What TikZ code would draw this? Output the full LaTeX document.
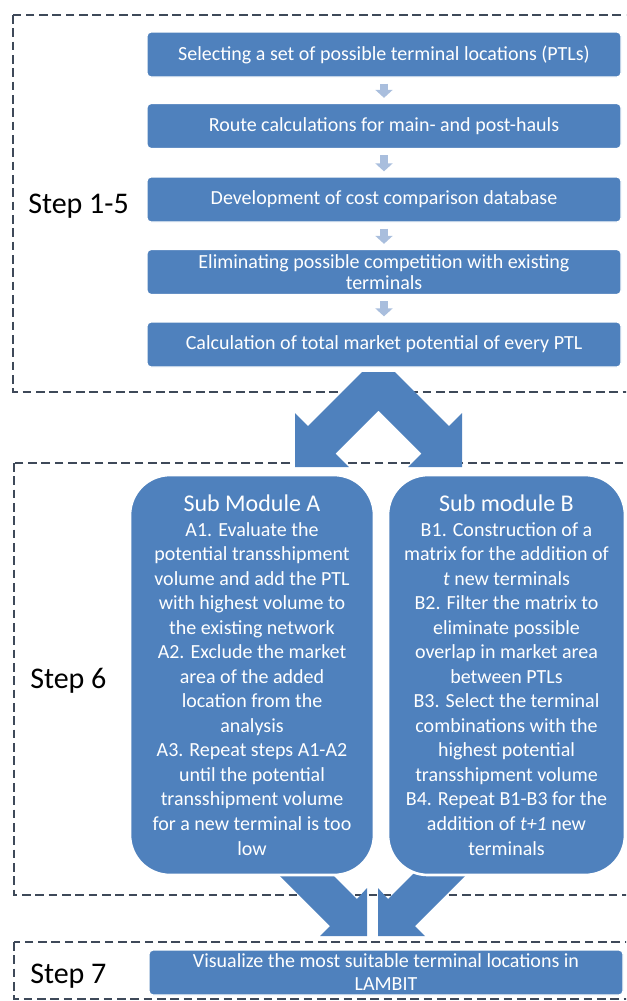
\documentclass[tikz,border=0pt]{standalone}
\usepackage{fontspec}
\setmainfont{Carlito}
\usetikzlibrary{arrows.meta}

\definecolor{boxblue}{HTML}{4F81BD}
\definecolor{lightarrow}{HTML}{A9BEDD}
\definecolor{dashgrey}{HTML}{3E4959}

\tikzset{
  stepbox/.style={rectangle,rounded corners=3pt,fill=boxblue,draw=white,line width=1pt,
    text=white,align=center,inner sep=2pt,minimum width=355.5pt,minimum height=33.75pt,
    font=\fontsize{15}{16}\selectfont},
  modbox/.style={rectangle,rounded corners=30pt,fill=boxblue,draw=white,line width=2pt,
    text=white,align=center,inner sep=2pt,minimum height=300pt,
    font=\fontsize{15}{18.4}\selectfont},
  steplabel/.style={anchor=base west,inner sep=0pt,font=\fontsize{22.5}{27}\selectfont},
  dashframe/.style={draw=dashgrey,line width=2.2pt,dash pattern=on 6.5pt off 3.5pt},
  bigarrow/.style={fill=boxblue},
  smallarrow/.style={draw=lightarrow,line width=6pt,-{Triangle[length=6pt,width=12.75pt]}}
}

\begin{document}
\begin{tikzpicture}[x=0.75pt,y=-0.75pt]
\useasboundingbox (0,0) rectangle (626,1001);
\clip (0,0) rectangle (626,1001);

\draw[dashframe] (13,15) rectangle (640,392);
\draw[dashframe] (14,463) rectangle (640,895);
\draw[dashframe] (14,942) rectangle (640,999);

\fill[bigarrow] (362,372) -- (395,372) -- (449,426) -- (462,413) -- (462,467) -- (408,467)
  -- (421.5,453.5) -- (378.5,410.5) -- (335.5,453.5) -- (349,467) -- (295,467) -- (295,413)
  -- (308,426) -- cycle;
\fill[bigarrow] (269,865) -- (323,865) -- (357,899) -- (367,888) -- (367,936) -- (320,936)
  -- (330,926) -- cycle;
\fill[bigarrow] (476,865) -- (422,865) -- (388,899) -- (378,888) -- (378,936) -- (425,936)
  -- (415,926) -- cycle;

\begin{scope}[every node/.style={stepbox}]
    \node (sel) at (384,54.5) {Selecting a set of possible terminal locations (PTLs)};
    \node (route) at (384,126) {Route calculations for main- and post-hauls};
    \node (dev) at (384,199.5) {Development of cost comparison database};
    \node (elim) at (384,272) {Eliminating possible competition with existing\\terminals};
    \node (calc) at (384,344.5) {Calculation of total market potential of every PTL};
    \node[font=\fontsize{15}{17.25}\selectfont] (vis) at (386,972.5)
      {Visualize the most suitable terminal locations in\\LAMBIT};
\end{scope}

\begin{scope}[every node/.style={modbox}]
    \node[minimum width=183pt] (moda) at (252,675) {{\fontsize{18}{18.4}\selectfont Sub Module A}\\
      A1. Evaluate the\\potential transshipment\\volume and add the PTL\\
      with highest volume to\\the existing network\\A2. Exclude the market\\
      area of the added\\location from the\\analysis\\A3. Repeat steps A1-A2\\
      until the potential\\transshipment volume\\for a new terminal is too\\low};
    \node[minimum width=177.75pt] (modb) at (506.5,675) {{\fontsize{18}{18.4}\selectfont Sub module B}\\
      B1. Construction of a\\matrix for the addition of\\\textit{t} new terminals\\
      B2. Filter the matrix to\\eliminate possible\\overlap in market area\\
      between PTLs\\B3. Select the terminal\\combinations with the\\
      highest potential\\transshipment volume\\B4. Repeat B1-B3 for the\\
      addition of \textit{t+1} new\\terminals};
\end{scope}

\begin{scope}[every node/.style={steplabel}]
    \node (lab15) at (28,213) {Step 1-5};
    \node (lab6) at (30,688) {Step 6};
    \node (lab7) at (30,983) {Step 7};
\end{scope}

\draw[smallarrow] ([yshift=-4.5pt]sel.south) -- ([yshift=3.75pt]route.north);
\draw[smallarrow] ([yshift=-4.5pt]route.south) -- ([yshift=3.75pt]dev.north);
\draw[smallarrow] ([yshift=-4.5pt]dev.south) -- ([yshift=3.75pt]elim.north);
\draw[smallarrow] ([yshift=-4.5pt]elim.south) -- ([yshift=3.75pt]calc.north);
\end{tikzpicture}
\end{document}
